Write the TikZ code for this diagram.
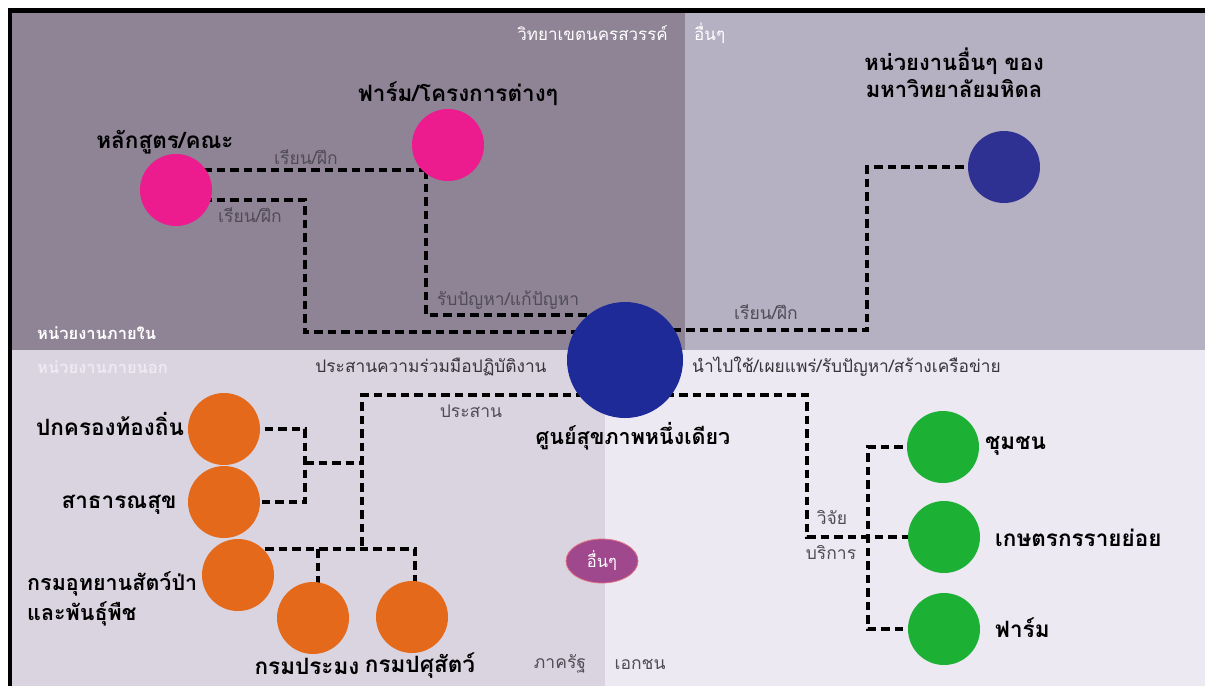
\documentclass[tikz,border=0pt]{standalone}
\usepackage{fontspec}
\setmainfont[Script=Thai]{Loma}
\usetikzlibrary{calc,shapes.geometric}
\pgfdeclarelayer{bgl}
\pgfdeclarelayer{lines}
\pgfsetlayers{bgl,lines,main}
\definecolor{tl}{RGB}{142,132,150}
\definecolor{tr}{RGB}{181,176,194}
\definecolor{bl}{RGB}{217,212,224}
\definecolor{br}{RGB}{236,233,242}
\definecolor{pinkc}{RGB}{236,28,143}
\definecolor{bluec}{RGB}{46,49,146}
\definecolor{hubc}{RGB}{30,42,152}
\definecolor{orangec}{RGB}{229,105,26}
\definecolor{greenc}{RGB}{28,176,53}
\definecolor{ellc}{RGB}{160,72,142}
\definecolor{ellb}{RGB}{226,112,130}
\definecolor{greyt}{RGB}{80,76,86}
\definecolor{darkt}{RGB}{55,52,58}
\definecolor{faint}{RGB}{238,234,244}
\tikzset{
  circ/.style={circle,minimum size=72pt,inner sep=0pt,draw=none},
  big/.style={font=\fontsize{22.5}{26}\selectfont\bfseries,text=black,inner sep=0pt},
  sml/.style={font=\fontsize{17.5}{21}\selectfont,text=greyt,inner sep=0pt},
  dkl/.style={font=\fontsize{17.3}{21}\selectfont,text=darkt,inner sep=0pt},
  wht/.style={font=\fontsize{16.5}{20}\selectfont\bfseries,text=white,inner sep=0pt},
  dl/.style={line width=4pt,dash pattern=on 8.5pt off 5pt,black}
}
\begin{document}
\begin{tikzpicture}[x=1pt,y=-1pt]
\useasboundingbox (0,0) rectangle (1205,686);
% backgrounds
\begin{pgfonlayer}{bgl}
\fill[white] (0,0) rectangle (1205,686);
\fill[tl] (10,10) rectangle (685,350);
\fill[tr] (685,10) rectangle (1205,350);
\fill[bl] (10,350) rectangle (605,686);
\fill[br] (605,350) rectangle (1205,686);
\fill[black] (8,8) rectangle (1205,13);
\fill[black] (8,8) rectangle (12,686);
\end{pgfonlayer}
% circles
\node[circ,fill=pinkc] (hlak) at (176,190) {};
\node[circ,fill=pinkc] (farm) at (448,145) {};
\node[circ,fill=bluec] (mahi) at (1004,167) {};
\node[circle,minimum size=116pt,inner sep=0pt,fill=hubc] (hub) at (625,360) {};
\node[circ,fill=orangec] (pk) at (224,429) {};
\node[circ,fill=orangec] (sat) at (224,502) {};
\node[circ,fill=orangec] (uth) at (238,575) {};
\node[circ,fill=orangec] (pram) at (313,618) {};
\node[circ,fill=orangec] (pasu) at (412,617) {};
\node[circ,fill=greenc] (chum) at (943,447) {};
\node[circ,fill=greenc] (kas) at (944,537) {};
\node[circ,fill=greenc] (farm2) at (944,629) {};
\node[ellipse,minimum width=72pt,minimum height=44pt,inner sep=0pt,fill=ellc,draw=ellb,line width=0.8pt,text=white,font=\fontsize{16.5}{20}\selectfont] (etc) at (602,561) {อื่นๆ};
% junction coordinates
\coordinate (j1) at (426,170);
\coordinate (j2) at (426,315);
\coordinate (a1) at (305,200);
\coordinate (a2) at (305,332);
\coordinate (b1) at (867,167);
\coordinate (b2) at (867,330);
\coordinate (c1) at (362,395);
\coordinate (c2) at (362,549);
\coordinate (d0) at (263,549);
\coordinate (d1) at (318,549);
\coordinate (d2) at (415,549);
\coordinate (e1) at (305,429);
\coordinate (e2) at (305,502);
\coordinate (e3) at (305,463);
\coordinate (f1) at (807,395);
\coordinate (f2) at (807,537);
\coordinate (g1) at (868,447);
\coordinate (g2) at (868,629);
% connectors
\begin{pgfonlayer}{lines}
\draw[dl] ([yshift=20pt]hlak.center) -- (j1);
\draw[dl] (j1) -- (j2) -- (j2 -| hub.center);
\draw[dl] ([yshift=-10pt]hlak.center) -- (a1) -- (a2) -- (a2 -| hub.center);
\draw[dl] (mahi.center) -- (b1) -- (b2) -- (b2 -| hub.center);
\draw[dl] (c1 -| hub.center) -- (c1) -- (c2);
\draw[dl] (uth.center |- d0) -- (d2) -- (d2 |- pasu.center);
\draw[dl] (d1) -- (d1 |- pram.center);
\draw[dl] (pk.center) -- (e1) -- (e2) -- (sat.center);
\draw[dl] (e3) -- (e3 -| c1);
\draw[dl] (f1 -| hub.center) -- (f1) -- (f2) -- (kas.center);
\draw[dl] (chum.center) -- (g1) -- (g2) -- (farm2.center);
\end{pgfonlayer}
% labels
\node[big] (lhlak) at (165,142) {หลักสูตร/คณะ};
\node[big] (lfarm) at (458,94) {ฟาร์ม/โครงการต่างๆ};
\node[wht,font=\fontsize{17}{20}\selectfont,anchor=east] (lcamp) at (668,33) {วิทยาเขตนครสวรรค์};
\node[wht,font=\fontsize{17}{20}\selectfont,anchor=west] (lother) at (694,33) {อื่นๆ};
\node[big,align=center,font=\fontsize{22}{27}\selectfont\bfseries] (lmahi) at (954,73) {หน่วยงานอื่นๆ ของ\\มหาวิทยาลัยมหิดล};
\node[wht,anchor=west] (lin) at (37,333) {หน่วยงานภายใน};
\node[wht,text=faint,anchor=west] (lout) at (37,367) {หน่วยงานภายนอก};
\node[dkl] (lcoop) at (431,367) {ประสานความร่วมมือปฏิบัติงาน};
\node[dkl,anchor=west] (luse) at (692,367) {นำไปใช้/เผยแพร่/รับปัญหา/สร้างเครือข่าย};
\node[sml] (lcoord) at (471,411) {ประสาน};
\node[big,font=\fontsize{21.5}{26}\selectfont\bfseries] (lhub) at (633,436) {ศูนย์สุขภาพหนึ่งเดียว};
\node[sml] (lprob) at (508,300) {รับปัญหา/แก้ปัญหา};
\node[sml] (lstudy3) at (766,312) {เรียน/ฝึก};
\node[sml] (lstudy1) at (306,157) {เรียน/ฝึก};
\node[sml] (lstudy2) at (250,215) {เรียน/ฝึก};
\node[big] (lpk) at (110,424) {ปกครองท้องถิ่น};
\node[big] (lsat) at (119,505) {สาธารณสุข};
\node[big,anchor=west,font=\fontsize{21.5}{26}\selectfont\bfseries] (luth1) at (27,584) {กรมอุทยานสัตว์ป่า};
\node[big,anchor=west,font=\fontsize{21.5}{26}\selectfont\bfseries] (luth2) at (27,614) {และพันธุ์พืช};
\node[big] (lpram) at (307,666) {กรมประมง};
\node[big] (lpasu) at (420,666) {กรมปศุสัตว์};
\node[sml] (lgov) at (560,664) {ภาครัฐ};
\node[sml] (lpriv) at (640,664) {เอกชน};
\node[big,anchor=west] (lchum) at (985,446) {ชุมชน};
\node[big,anchor=west] (lkas) at (995,538) {เกษตรกรรายย่อย};
\node[big,anchor=west] (lfarm2) at (995,628) {ฟาร์ม};
\node[sml] (lres) at (832,518) {วิจัย};
\node[sml] (lserv) at (831,553) {บริการ};
\end{tikzpicture}
\end{document}
